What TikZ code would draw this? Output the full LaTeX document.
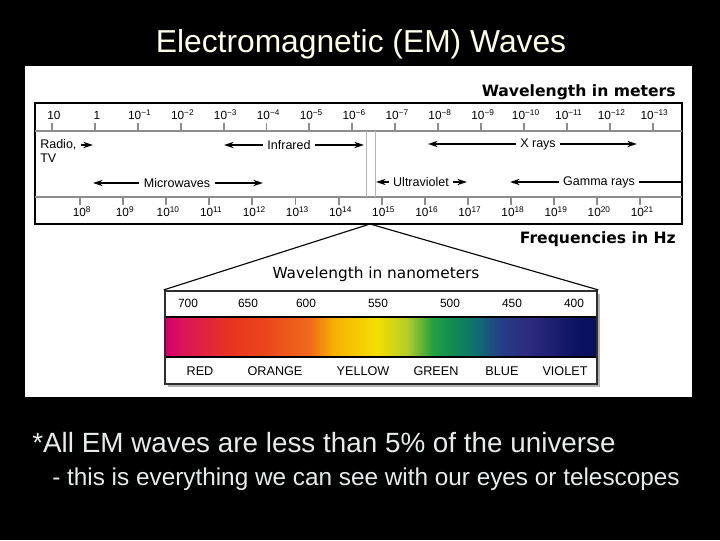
\documentclass[tikz,border=0pt]{standalone}
\usepackage{fontspec}
\setmainfont{Liberation Sans}
\newfontfamily\verdfont{DejaVu Sans}
\usetikzlibrary{arrows.meta, positioning}
\usepackage{xcolor}
\definecolor{titlecol}{HTML}{FFFFE6}
\definecolor{notecol}{HTML}{E4ECEC}
\definecolor{scalegray}{HTML}{8C8C8C}
\definecolor{guidegray}{HTML}{B4B4B4}
\definecolor{specedge}{HTML}{2E2E2E}
\definecolor{s0}{HTML}{D4006E}
\definecolor{s1}{HTML}{DC1458}
\definecolor{s2}{HTML}{E8361E}
\definecolor{s3}{HTML}{EC461C}
\definecolor{s4}{HTML}{F06A1C}
\definecolor{s5}{HTML}{F7AE04}
\definecolor{s6}{HTML}{F2E000}
\definecolor{s7}{HTML}{B4CC28}
\definecolor{s8}{HTML}{22A040}
\definecolor{s9}{HTML}{0F8A55}
\definecolor{s10}{HTML}{0F6E70}
\definecolor{s11}{HTML}{243E86}
\definecolor{s12}{HTML}{2E2C80}
\definecolor{s13}{HTML}{0C1262}
\definecolor{s14}{HTML}{0A0F5E}
\tikzset{
  headline/.style ={text=titlecol, font=\fontsize{22.6}{27}\selectfont, inner sep=0pt},
  notetext/.style ={text=notecol, inner sep=0pt, anchor=base west},
  tickmark/.style ={draw=scalegray, line width=1.4pt},
  scaleline/.style={draw=scalegray, line width=2pt},
  ticklbl/.style  ={font=\fontsize{8.4}{10}\selectfont, inner sep=0pt},
  band/.style     ={font=\fontsize{8.9}{10.5}\selectfont, inner sep=3pt},
  rng/.style      ={-{Stealth[length=7pt, width=4.5pt]}, line width=0.9pt},
  rngline/.style  ={line width=0.9pt},
  axistitle/.style={font=\verdfont\bfseries\fontsize{11.1}{13}\selectfont, inner sep=0pt, anchor=base east},
  nmlbl/.style    ={font=\fontsize{8.5}{10}\selectfont, inner sep=0pt},
  colname/.style  ={font=\fontsize{9}{11}\selectfont, inner sep=0pt},
  specbox/.style  ={draw=specedge, line width=1.6pt, minimum width=10.8cm, minimum height=2.325cm, inner sep=0pt},
}

\begin{document}
\begin{tikzpicture}[x=0.025cm, y=-0.025cm]
  \useasboundingbox (0,0) rectangle (720,540);
  \fill[black] (0,0) rectangle (720,540);
  \fill[white] (25,66) rectangle (692,397);

  \node[headline, anchor=base] (title) at (361,52) {Electromagnetic (EM) Waves};

  % upper chart
  \node[axistitle] (wlm) at (676,96) {Wavelength in meters};
  \draw[black, line width=1.4pt] (35,103) rectangle (682,224);
  \draw[scaleline] (35,131) -- (682,131);
  \draw[scaleline] (35,197) -- (682,197);
  \draw[guidegray, line width=0.7pt] (366,131) -- (366,197);
  \draw[guidegray, line width=0.7pt] (375,131) -- (375,197);

  \foreach \lbl [count=\k from 0] in {10,1,10\textsuperscript{−1},10\textsuperscript{−2},10\textsuperscript{−3},
      10\textsuperscript{−4},10\textsuperscript{−5},10\textsuperscript{−6},10\textsuperscript{−7},10\textsuperscript{−8},
      10\textsuperscript{−9},10\textsuperscript{−10},10\textsuperscript{−11},10\textsuperscript{−12},10\textsuperscript{−13}} {
    \draw[tickmark] ({52+42.9*\k},123) -- ({52+42.9*\k},131);
    \node[ticklbl] (w\k) at ({54+42.9*\k},115) {\lbl};
  }
  \foreach \e [count=\k from 0] in {8,...,21} {
    \draw[tickmark] ({80+43.1*\k},197) -- ({80+43.1*\k},205);
    \node[ticklbl] (f\e) at ({82+43.1*\k},212) {10\textsuperscript{\e}};
  }

  \node[band, anchor=west, inner sep=0pt] (radio) at (40,145) {Radio,};
  \node[band, anchor=north west, inner sep=0pt] (tv) at ([yshift=-2pt]radio.south west) {TV};
  \node[band] (ir) at (289,145) {Infrared};
  \node[band] (xr) at (538,144) {X rays};
  \node[band] (mw) at (177,183) {Microwaves};
  \node[band] (uv) at (421,182) {Ultraviolet};
  \node[band] (gam) at (599,182) {Gamma rays};

  \coordinate (radioR) at (93,145);
  \coordinate (irL) at (224,145);
  \coordinate (irR) at (364,145);
  \coordinate (xrL) at (428,144);
  \coordinate (xrR) at (637,144);
  \coordinate (mwL) at (93,183);
  \coordinate (mwR) at (263,183);
  \coordinate (uvL) at (376,182);
  \coordinate (uvR) at (467,182);
  \coordinate (gamL) at (510,182);
  \coordinate (gamR) at (682,182);

  \draw[rng] ([xshift=3pt]radio.east) -- (radioR);
  \draw[rng] (ir.west) -- (irL);
  \draw[rng] (ir.east) -- (irR);
  \draw[rng] (xr.west) -- (xrL);
  \draw[rng] (xr.east) -- (xrR);
  \draw[rng] (mw.west) -- (mwL);
  \draw[rng] (mw.east) -- (mwR);
  \draw[rng] (uv.west) -- (uvL);
  \draw[rng] (uv.east) -- (uvR);
  \draw[rng] (gam.west) -- (gamL);
  \draw[rngline] (gam.east) -- (gamR);

  \node[axistitle] (fhz) at (676,243) {Frequencies in Hz};

  % visible band
  \coordinate (apex) at (370,224);
  \node[font=\verdfont\fontsize{10.9}{13}\selectfont, inner sep=0pt, anchor=base] (wln) at (376,278) {Wavelength in nanometers};
  \fill[gray!60] (168,294) rectangle (600,387);
  \fill[white] (165,291) rectangle (597,384);
  \foreach \xa/\ca/\xb/\cb in {165/s0/183/s1, 183/s1/233/s2, 233/s2/265/s3, 265/s3/310/s4, 310/s4/333/s5,
      333/s5/377/s6, 377/s6/407/s7, 407/s7/433/s8, 433/s8/455/s9, 455/s9/477/s10, 477/s10/500/s11,
      500/s11/527/s12, 527/s12/577/s13, 577/s13/597/s14}
    \shade[left color=\ca, right color=\cb] (\xa,317) rectangle (\xb,357);
  \draw[black, line width=1.1pt] (165,317) -- (597,317);
  \draw[black, line width=1.1pt] (165,357) -- (597,357);
  \node[specbox] (spec) at (381,337.5) {};
  \draw[line width=0.8pt] (apex) -- (spec.north west);
  \draw[line width=0.8pt] (apex) -- (spec.north east);

  \foreach \n/\x in {700/188,650/248,600/306,550/378,500/450,450/512,400/574}
    \node[nmlbl] (nm\n) at (\x,303) {\n};
  \foreach \c/\x in {RED/200,ORANGE/275,YELLOW/363,GREEN/436,BLUE/502,VIOLET/565}
    \node[colname] (c\c) at (\x,371) {\c};

  % notes
  \node[notetext, font=\fontsize{19.8}{24}\selectfont] (note1) at (32,452) {*All EM waves are less than 5\% of the universe};
  \node[notetext, font=\fontsize{17.3}{21}\selectfont] (note2) at (52,485) {- this is everything we can see with our eyes or telescopes};
\end{tikzpicture}
\end{document}
